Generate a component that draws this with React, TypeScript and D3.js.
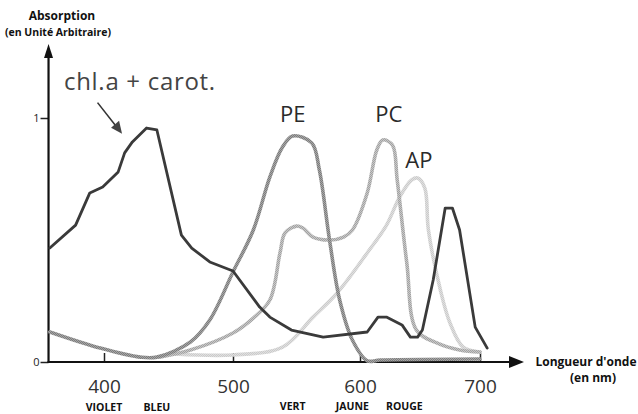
import * as d3 from "d3";
import { useEffect, useRef } from "react";

// wavelengths (nm) and absorption (arbitrary units)
const chlNm = [358, 378, 389, 399, 411, 416, 422, 433, 441, 460, 468, 482, 500, 521, 529, 546, 571, 606, 615, 622, 635, 642, 648, 652, 661, 671, 677, 683, 696, 706];
const chlAbs = [0.467, 0.561, 0.693, 0.717, 0.779, 0.857, 0.902, 0.959, 0.951, 0.52, 0.467, 0.41, 0.373, 0.225, 0.184, 0.131, 0.102, 0.123, 0.184, 0.184, 0.152, 0.102, 0.102, 0.131, 0.336, 0.631, 0.631, 0.541, 0.143, 0.057];

const peNm = [358, 397, 428, 441, 467, 482, 500, 516, 529, 539, 547, 562, 568, 576, 584, 594, 606, 617, 700];
const peAbs = [0.123, 0.057, 0.02, 0.02, 0.082, 0.172, 0.369, 0.541, 0.758, 0.881, 0.926, 0.898, 0.787, 0.5, 0.254, 0.09, 0.005, 0.008, 0.012];

const pcNm = [443, 467, 500, 516, 529, 537, 541, 550, 555, 563, 576, 587, 594, 606, 614, 619, 627, 631, 639, 647, 664, 683, 700];
const pcAbs = [0.02, 0.049, 0.119, 0.18, 0.254, 0.447, 0.529, 0.557, 0.549, 0.512, 0.5, 0.512, 0.541, 0.693, 0.869, 0.91, 0.889, 0.746, 0.406, 0.131, 0.078, 0.049, 0.041];

const apNm = [455, 500, 539, 563, 582, 606, 622, 633, 643, 648, 654, 657, 667, 675, 686, 700];
const apAbs = [0.033, 0.029, 0.061, 0.184, 0.283, 0.447, 0.56, 0.676, 0.746, 0.754, 0.713, 0.541, 0.295, 0.16, 0.061, 0.041];

const wavelengthTicks = [400, 500, 600, 700];
const absorptionTicks = [0, 1];

const bandNames = ["VIOLET", "BLEU", "VERT", "JAUNE", "ROUGE"];
const bandNm = [400, 441, 547, 594, 637];

const pigmentLabels = ["PE", "PC", "AP"];
const pigmentLabelNm = [547, 624, 649];

export default function App() {
  const svgRef = useRef<SVGSVGElement>(null);

  useEffect(() => {
    if (!svgRef.current) return;
    const svg = d3.select(svgRef.current);
    svg.selectAll("*").remove();

    // the scanned axis is not quite even, so the scale follows the tick marks
    const x = d3.scaleLinear().domain([400, 500, 600, 700]).range([104, 233, 360, 480]);
    const y = d3.scaleLinear().domain([0, 1]).range([362, 118]);
    const x0 = x(357);
    const sans = "'Open Sans', 'DejaVu Sans', sans-serif";

    // halftone-ish textures for the grey curves
    const defs = svg.append("defs");
    const textures = [
      { id: "tex-pe", base: "#a6a6a6", dot: "#7c7c7c" },
      { id: "tex-pc", base: "#c8c8c8", dot: "#a2a2a2" },
      { id: "tex-ap", base: "#e0e0e0", dot: "#cbcbcb" },
    ];
    textures.forEach((t) => {
      const p = defs
        .append("pattern")
        .attr("id", t.id)
        .attr("patternUnits", "userSpaceOnUse")
        .attr("width", 2)
        .attr("height", 2);
      p.append("rect").attr("width", 2).attr("height", 2).attr("fill", t.base);
      p.append("rect").attr("width", 1).attr("height", 1).attr("fill", t.dot);
      p.append("rect").attr("x", 1).attr("y", 1).attr("width", 1).attr("height", 1).attr("fill", t.dot);
    });

    const g = svg.append("g");

    // x axis ticks (inside) and labels
    const xAxis = g
      .append("g")
      .attr("transform", `translate(0,${y(0)})`)
      .call(d3.axisBottom(x).tickValues(wavelengthTicks).tickSize(-9).tickFormat(d3.format("d")));
    xAxis.select(".domain").remove();
    xAxis.selectAll("line").attr("stroke", "#222").attr("stroke-width", 1.5);
    xAxis
      .selectAll("text")
      .attr("y", 30.5)
      .attr("dy", 0)
      .attr("fill", "#333")
      .style("font-family", sans)
      .style("font-size", "19px");

    // y axis ticks and labels
    const yAxis = g
      .append("g")
      .attr("transform", `translate(${x0},0)`)
      .call(d3.axisLeft(y).tickValues(absorptionTicks).tickSize(8).tickPadding(1).tickFormat(d3.format("d")));
    yAxis.select(".domain").remove();
    yAxis.selectAll("line").attr("stroke", "#222").attr("stroke-width", 1.5);
    yAxis
      .selectAll("text")
      .attr("fill", "#222")
      .style("font-family", sans)
      .style("font-size", "11px");

    // axis lines with arrow heads
    g.append("line")
      .attr("x1", x0)
      .attr("x2", x0)
      .attr("y1", y(0) + 1)
      .attr("y2", 56)
      .attr("stroke", "#111")
      .attr("stroke-width", 2.2);
    g.append("path").attr("d", `M${x0 - 4.5},58 L${x0 + 4.5},58 L${x0},44 Z`).attr("fill", "#111");

    g.append("line")
      .attr("x1", x0 - 1)
      .attr("x2", 512)
      .attr("y1", y(0))
      .attr("y2", y(0))
      .attr("stroke", "#111")
      .attr("stroke-width", 2);
    g.append("path").attr("d", `M509,${y(0) - 6} L509,${y(0) + 6} L524,${y(0)} Z`).attr("fill", "#111");

    // curves
    const line = d3
      .line<[number, number]>()
      .x((d) => x(d[0]))
      .y((d) => y(d[1]));
    const smooth = d3
      .line<[number, number]>()
      .x((d) => x(d[0]))
      .y((d) => y(d[1]))
      .curve(d3.curveCatmullRom.alpha(0.5));

    const series = [
      { nm: apNm, abs: apAbs, stroke: "url(#tex-ap)", width: 3.6, gen: smooth },
      { nm: pcNm, abs: pcAbs, stroke: "url(#tex-pc)", width: 3.6, gen: smooth },
      { nm: peNm, abs: peAbs, stroke: "url(#tex-pe)", width: 3.6, gen: smooth },
      { nm: chlNm, abs: chlAbs, stroke: "#3a3a3a", width: 2.8, gen: line },
    ];
    series.forEach((s) => {
      const pts = s.nm.map((n, i) => [n, s.abs[i]] as [number, number]);
      g.append("path")
        .attr("d", s.gen(pts) as string)
        .attr("fill", "none")
        .attr("stroke", s.stroke)
        .attr("stroke-width", s.width)
        .attr("stroke-linejoin", "round")
        .attr("stroke-linecap", "round");
    });

    // pigment labels
    g.selectAll(".pig")
      .data(pigmentLabels)
      .enter()
      .append("text")
      .attr("x", (d, i) => x(pigmentLabelNm[i]))
      .attr("y", (d, i) => (i === 2 ? 168 : 122))
      .attr("text-anchor", "middle")
      .attr("fill", "#2a2a2a")
      .style("font-family", sans)
      .style("font-size", "22px")
      .text((d) => d);

    // chlorophyll annotation and its arrow
    g.append("text")
      .attr("x", 64)
      .attr("y", 90)
      .attr("fill", "#444")
      .attr("letter-spacing", 0.7)
      .style("font-family", sans)
      .style("font-size", "24px")
      .text("chl.a + carot.");
    const tipX = x(414),
      tipY = y(0.935);
    g.append("line")
      .attr("x1", x(395))
      .attr("y1", y(1.063))
      .attr("x2", tipX - 4)
      .attr("y2", tipY - 5)
      .attr("stroke", "#333")
      .attr("stroke-width", 1.6);
    g.append("path")
      .attr("d", `M${tipX},${tipY} L${tipX - 11},${tipY - 6} L${tipX - 3},${tipY - 13} Z`)
      .attr("fill", "#444");

    // colour band names
    g.selectAll(".band")
      .data(bandNames)
      .enter()
      .append("text")
      .attr("x", (d, i) => x(bandNm[i]))
      .attr("y", (d, i) => (i < 2 ? 411 : 410))
      .attr("text-anchor", "middle")
      .attr("fill", "#111")
      .style("font-family", sans)
      .style("font-weight", "bold")
      .style("font-size", "10.5px")
      .text((d) => d);

    // axis titles
    const titles = g
      .append("g")
      .style("font-family", sans)
      .style("font-weight", "bold")
      .attr("fill", "#111")
      .attr("text-anchor", "middle");
    titles.append("text").attr("x", 62).attr("y", 20).style("font-size", "12px").text("Absorption");
    titles.append("text").attr("x", 58).attr("y", 36).style("font-size", "10.5px").text("(en Unité Arbitraire)");
    titles.append("text").attr("x", 586).attr("y", 366).style("font-size", "12px").text("Longueur d'onde");
    titles.append("text").attr("x", 593).attr("y", 382).style("font-size", "12px").text("(en nm)");

    return () => {
      svg.selectAll("*").remove();
    };
  }, []);

  return (
    <div style={{ position: "absolute", left: 0, top: 0, width: 638, height: 414, background: "#fff" }}>
      <svg ref={svgRef} width={638} height={414} />
    </div>
  );
}
